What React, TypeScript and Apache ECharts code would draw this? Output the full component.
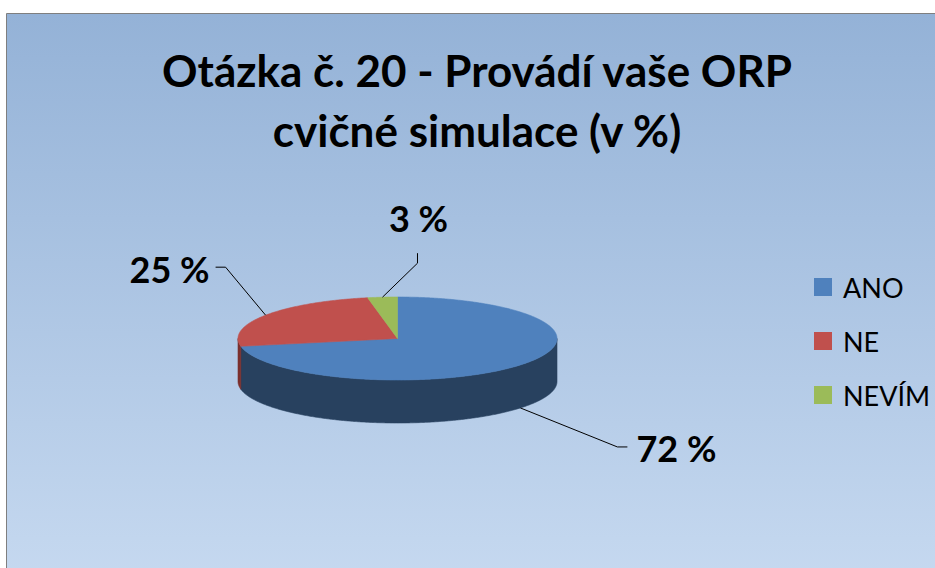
import React, { useEffect, useRef } from "react";
import * as echarts from "echarts";

// ---- data ----
const categories = ["ANO", "NE", "NEVÍM"];
const percentages = [72, 25, 3];
const titleLines = ["Otázka č. 20 - Provádí vaše ORP", "cvičné simulace (v %)"];

// ---- styles / layout ----
const topColors = ["#4f81bd", "#c0504d", "#9bbb59"];
const sideColors = ["#28415f", "#7b2f2d", "#62773a"];
const PIE = { cx: 397.5, cy: 338.5, rx: 159.5, ry: 41.5, depth: 43 };
const labelOffsets = [
  [156, 40],
  [-96, -46],
  [36, -79],
];
const leaderOffsets = [
  [[-49, -1], [-59, -1]],
  [[46, -2], [56, -2]],
  [[-1, 35], [-1, 45]],
];

const total = percentages.reduce((a, b) => a + b, 0);
const starts: number[] = [];
percentages.reduce((acc, v) => {
  starts.push(acc);
  return acc + v;
}, 0);

function renderItem(params: any, api: any) {
  const idx = params.seriesIndex;
  const start = api.value(0);
  const end = api.value(1);
  const val = api.value(2);
  const { cx, cy, rx, ry, depth } = PIE;
  const t1 = (start / total) * Math.PI * 2;
  const t2 = (end / total) * Math.PI * 2;
  const pt = (t: number, dy = 0) => [cx + rx * Math.sin(t), cy - ry * Math.cos(t) + dy];
  const arc = (a: number, b: number, dy: number) => {
    const n = Math.max(2, Math.ceil(Math.abs(b - a) / (Math.PI / 360)));
    const out: number[][] = [];
    for (let i = 0; i <= n; i++) out.push(pt(a + ((b - a) * i) / n, dy));
    return out;
  };
  const children: any[] = [];
  children.push({
    type: "polygon",
    shape: { points: [[cx, cy], ...arc(t1, t2, 0)] },
    style: { fill: topColors[idx], stroke: topColors[idx], lineWidth: 0.6 },
    z2: 10,
  });
  const a = Math.max(t1, Math.PI / 2);
  const b = Math.min(t2, (Math.PI * 3) / 2);
  if (b > a) {
    children.push({
      type: "polygon",
      shape: { points: [...arc(a, b, 0), ...arc(b, a, depth)] },
      style: { fill: sideColors[idx], stroke: sideColors[idx], lineWidth: 0.6 },
      z2: 1,
    });
  }
  const mid = (t1 + t2) / 2;
  const front = Math.cos(mid) < 0;
  const anchor = pt(mid, front ? depth : 0);
  const lc = [anchor[0] + labelOffsets[idx][0], anchor[1] + labelOffsets[idx][1]];
  const lo = leaderOffsets[idx];
  children.push({
    type: "polyline",
    shape: {
      points: [
        [lc[0] + lo[0][0], lc[1] + lo[0][1]],
        [lc[0] + lo[1][0], lc[1] + lo[1][1]],
        anchor,
      ],
    },
    style: { stroke: "#000", lineWidth: 1, fill: null },
    z2: 20,
  });
  children.push({
    type: "text",
    x: lc[0],
    y: lc[1],
    style: {
      text: `${val} %`,
      fill: "#000",
      fontFamily: "Lato",
      fontWeight: "bold",
      fontSize: 36,
      align: "center",
      verticalAlign: "middle",
    },
    z2: 20,
  });
  return { type: "group", children };
}

export default function App() {
  const ref = useRef<HTMLDivElement>(null);
  useEffect(() => {
    if (!ref.current) return;
    const chart = echarts.init(ref.current, null, { renderer: "svg" });
    chart.setOption({
      animation: false,
      backgroundColor: "#ffffff",
      graphic: [
        {
          type: "rect",
          z: -10,
          silent: true,
          shape: { x: 6.5, y: 13.5, width: 940, height: 570 },
          style: {
            fill: new echarts.graphic.LinearGradient(0, 0, 0, 1, [
              { offset: 0, color: "#94b2d7" },
              { offset: 1, color: "#c6d9f0" },
            ]),
            stroke: "#7f7f7f",
            lineWidth: 1,
          },
        },
      ],
      title: {
        text: titleLines.join("\n"),
        left: 477,
        top: 40,
        padding: 0,
        textAlign: "center",
        textStyle: {
          fontFamily: "Lato",
          fontWeight: "bold",
          fontSize: 44,
          lineHeight: 60,
          color: "#000",
        },
      },
      legend: {
        orient: "vertical",
        left: 814,
        top: 273.5,
        padding: 0,
        itemWidth: 18,
        itemHeight: 18,
        itemGap: 27,
        icon: "rect",
        data: categories,
        textStyle: {
          fontFamily: "Lato",
          fontSize: 27,
          color: "#000",
          padding: [0, 0, 0, 6],
        },
      },
      series: categories.map((name, i) => ({
        type: "custom",
        name,
        coordinateSystem: "none",
        itemStyle: { color: topColors[i] },
        data: [[starts[i], starts[i] + percentages[i], percentages[i]]],
        renderItem,
      })),
    });
    return () => chart.dispose();
  }, []);
  return (
    <div
      ref={ref}
      style={{ position: "fixed", left: 0, top: 0, width: 935, height: 568 }}
    />
  );
}
